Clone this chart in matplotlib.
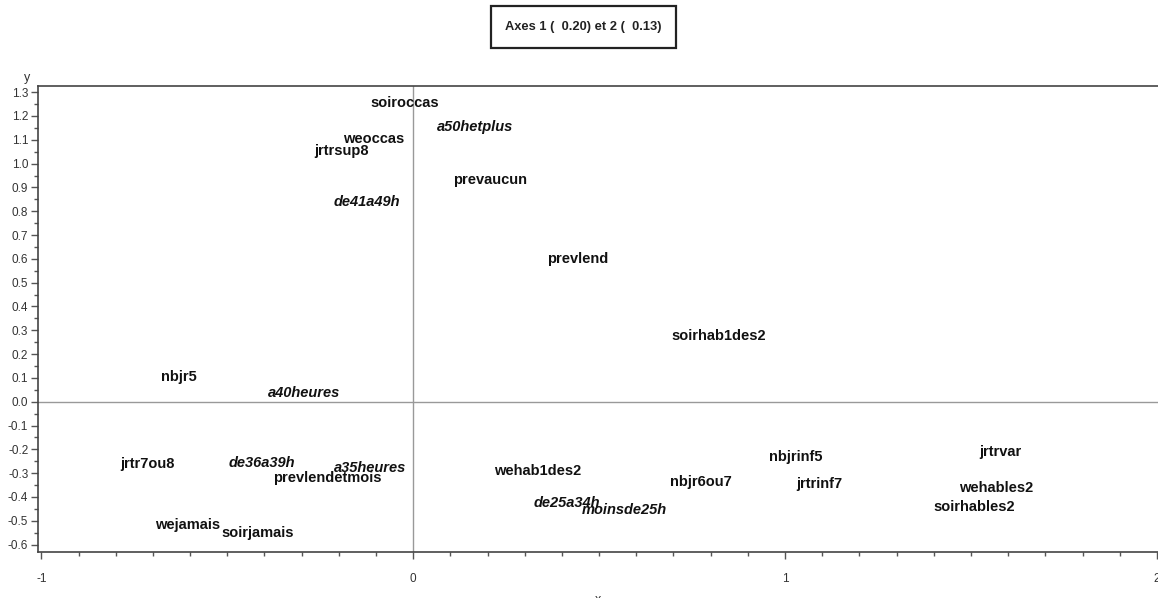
import numpy as np
import matplotlib
matplotlib.use('Agg')
import matplotlib.pyplot as plt
from matplotlib.patches import Rectangle
from matplotlib.ticker import MultipleLocator, FormatStrFormatter

# modalites (axe 1, axe 2)
labels = ['soiroccas', 'a50hetplus', 'weoccas', 'jrtrsup8', 'prevaucun',
          'de41a49h', 'prevlend', 'soirhab1des2', 'nbjr5', 'a40heures',
          'jrtr7ou8', 'de36a39h', 'a35heures', 'prevlendetmois', 'wejamais',
          'soirjamais', 'wehab1des2', 'de25a34h', 'moinsde25h', 'nbjr6ou7',
          'nbjrinf5', 'jrtrinf7', 'jrtrvar', 'wehables2', 'soirhables2']
axe1 = [-0.023, 0.167, -0.106, -0.193, 0.207,
        -0.125, 0.442, 0.821, -0.631, -0.293,
        -0.714, -0.406, -0.115, -0.230, -0.606,
        -0.419, 0.335, 0.413, 0.569, 0.775,
        1.029, 1.093, 1.580, 1.567, 1.510]
axe2 = [1.254, 1.155, 1.102, 1.055, 0.931,
        0.840, 0.600, 0.276, 0.105, 0.035,
        -0.262, -0.259, -0.280, -0.319, -0.518,
        -0.553, -0.290, -0.427, -0.455, -0.339,
        -0.234, -0.346, -0.210, -0.364, -0.441]
# heures travaillees are shown in italics
italic = ['a50hetplus', 'de41a49h', 'a40heures', 'de36a39h', 'a35heures',
          'de25a34h', 'moinsde25h']

plt.rcParams['font.family'] = ['Liberation Sans', 'DejaVu Sans']
plt.rcParams['axes.unicode_minus'] = False

fig = plt.figure(figsize=(11.58, 5.98), dpi=100)
ax = fig.add_axes([38 / 1158, 1 - 551.7 / 598, 1 - 38 / 1158, (551.7 - 86) / 598])

ax.set_xlim(-1.009, 2.003)
ax.set_ylim(-0.63, 1.326)

# reference lines
ax.axhline(0, color='#999999', lw=1, zorder=1)
ax.axvline(0, color='#999999', lw=1, zorder=1)

for lab, x, y in zip(labels, axe1, axe2):
    ax.text(x, y, lab, ha='center', va='center', fontsize=10.5,
            fontweight='bold',
            style='italic' if lab in italic else 'normal',
            color='#111111', zorder=3)

# ticks
ax.xaxis.set_major_locator(MultipleLocator(1))
ax.xaxis.set_minor_locator(MultipleLocator(0.1))
ax.yaxis.set_major_locator(MultipleLocator(0.1))
ax.yaxis.set_minor_locator(MultipleLocator(0.05))
ax.yaxis.set_major_formatter(FormatStrFormatter('%.1f'))
ax.tick_params(which='major', direction='out', length=5, width=1,
               labelsize=8.5, labelcolor='#333333', color='#555555')
ax.tick_params(which='minor', direction='out', length=3, width=1, color='#555555')
ax.tick_params(axis='x', which='major', pad=10)
ax.tick_params(axis='y', which='major', pad=2)

for side in ['left', 'bottom', 'top']:
    ax.spines[side].set_color('#444444')
    ax.spines[side].set_linewidth(1.2)
ax.spines['right'].set_visible(False)

# axis names
fig.text(27 / 1158, 1 - 78 / 598, 'y', fontsize=9, ha='center', va='center', color='#333333')
fig.text(598 / 1158, 1 - 600 / 598, 'x', fontsize=9, ha='center', va='center', color='#333333')

# title box
fig.patches.append(Rectangle((491 / 1158, 1 - 48 / 598), 185 / 1158, 42 / 598,
                             transform=fig.transFigure, fill=False,
                             edgecolor='#222222', linewidth=1.6))
fig.text(583.5 / 1158, 1 - 27 / 598, 'Axes 1 (  0.20) et 2 (  0.13)',
         fontsize=9.3, fontweight='bold', ha='center', va='center', color='#222222')

fig.savefig('out.png', dpi=100)
